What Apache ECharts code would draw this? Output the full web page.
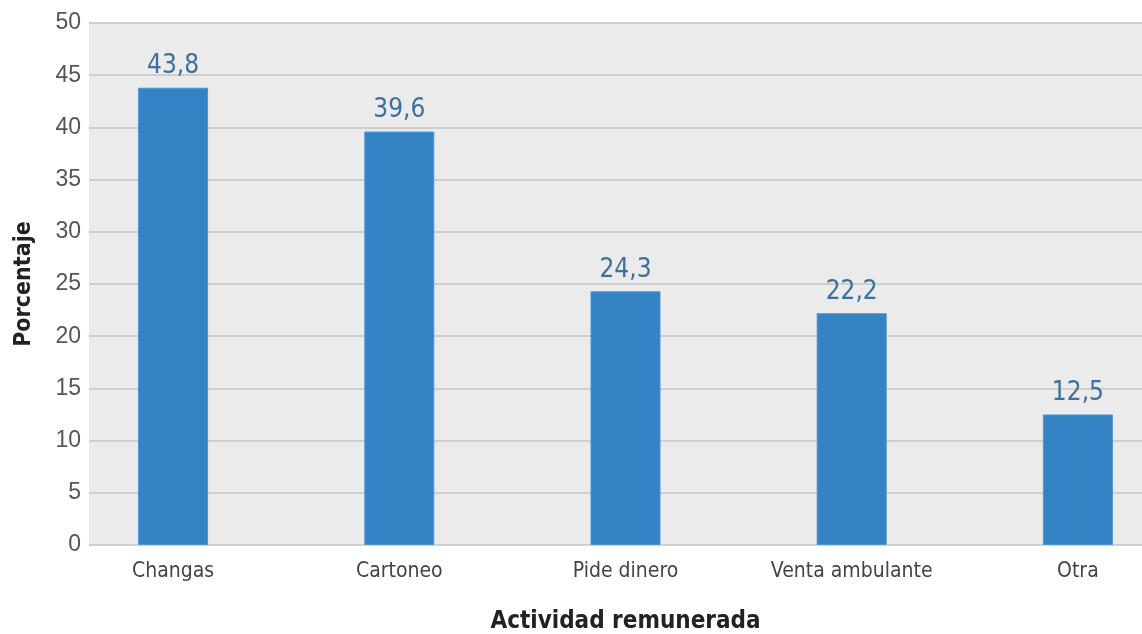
<!DOCTYPE html>
<html><head><meta charset="utf-8">
<script src="https://cdn.jsdelivr.net/npm/echarts@6/dist/echarts.min.js"></script>
<style>html,body{margin:0;padding:0;background:#fff}#c{width:1142px;height:634px}</style>
</head><body><div id="c"></div>
<script>
const categories = ['Changas', 'Cartoneo', 'Pide dinero', 'Venta ambulante', 'Otra'];
const values = [43.8, 39.6, 24.3, 22.2, 12.5];
const yTicks = [0, 5, 10, 15, 20, 25, 30, 35, 40, 45, 50];
const xTitle = 'Actividad remunerada';
const yTitle = 'Porcentaje';

const narrow = '"Liberation Sans Narrow", "DejaVu Sans Condensed", "Roboto", sans-serif';
const chart = echarts.init(document.getElementById('c'));
chart.setOption({
  animation: false,
  grid: [
    {left: 89, right: 0, top: 23, height: 522, show: true, backgroundColor: '#ebebeb', borderWidth: 0, outerBoundsMode: 'none'},
    {left: 60, width: 1131, top: 23, height: 522, show: false, outerBoundsMode: 'none'}
  ],
  xAxis: [
    {gridIndex: 0, type: 'value', show: false, min: 0, max: 1},
    {gridIndex: 1, type: 'category', data: categories,
     axisLine: {show: false}, axisTick: {show: false},
     axisLabel: {color: '#444', fontSize: 21, fontFamily: 'DejaVu Sans', fontStyle: 'condensed', margin: 16},
     name: xTitle, nameLocation: 'middle', nameGap: 65,
     nameTextStyle: {color: '#222', fontSize: 24, fontWeight: 'bold', fontFamily: narrow}}
  ],
  yAxis: [
    {gridIndex: 0, type: 'value', min: yTicks[0], max: yTicks[yTicks.length - 1], interval: 5,
     axisLine: {show: false}, axisTick: {show: false},
     axisLabel: {color: '#555', fontSize: 23, fontFamily: '"Liberation Sans", Arial, sans-serif', margin: 8},
     splitLine: {show: true, lineStyle: {color: '#c4c4c4', width: 1.5}},
     name: yTitle, nameLocation: 'middle', nameGap: 53, nameRotate: 90,
     nameTextStyle: {color: '#222', fontSize: 23, fontWeight: 'bold', fontFamily: narrow}},
    {gridIndex: 1, type: 'value', min: 0, max: 50, show: false}
  ],
  series: [{
    type: 'bar', xAxisIndex: 1, yAxisIndex: 1,
    data: values, barWidth: 70,
    itemStyle: {color: '#3484c5', borderColor: '#4a94d0', borderWidth: 1},
    label: {show: true, position: 'top', distance: 8, color: '#3d6f9f', fontSize: 26,
      fontFamily: 'DejaVu Sans', fontStyle: 'condensed',
      formatter: p => String(p.value.toFixed(1)).replace('.', ',')}
  }]
});
</script></body></html>
